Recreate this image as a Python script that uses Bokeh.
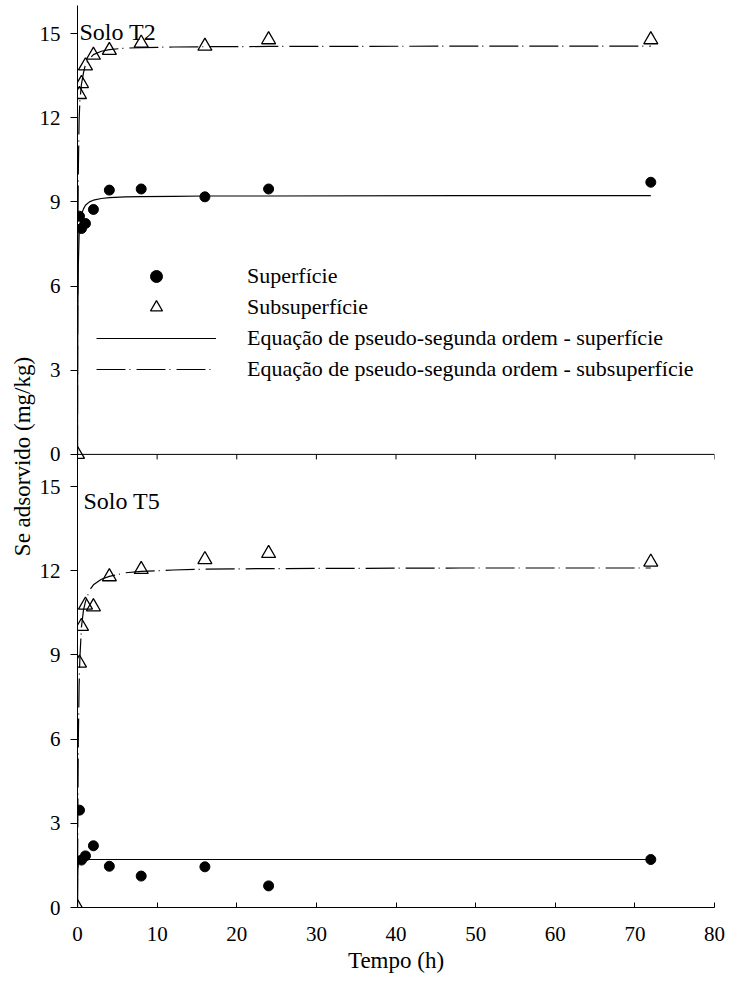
from bokeh.plotting import figure
from bokeh.models import (Range1d, FixedTicker, CustomJSTickFormatter, Legend, LegendItem, Label)
from bokeh.embed import file_html
from bokeh.resources import INLINE

# ---------------- data ----------------
times_sup = [0.25, 0.5, 1, 2, 4, 8, 16, 24, 72]          # Superfície sampling times (h)
times_sub = [0, 0.25, 0.5, 1, 2, 4, 8, 16, 24, 72]       # Subsuperfície sampling times (h)

t2_sup = [8.49, 8.05, 8.23, 8.73, 9.42, 9.46, 9.18, 9.46, 9.70]
t2_sub = [0, 12.83, 13.22, 13.85, 14.23, 14.40, 14.66, 14.55, 14.78, 14.78]
t5_sup = [3.47, 1.69, 1.84, 2.20, 1.47, 1.12, 1.45, 0.77, 1.71]
t5_sub = [0, 8.71, 10.02, 10.78, 10.72, 11.79, 12.05, 12.40, 12.62, 12.31]

# fitted pseudo-second-order curves
fit_t = [0, 0.02, 0.05, 0.1, 0.2, 0.3, 0.5, 0.75, 1, 1.5, 2, 3, 4, 6, 8, 12, 16, 24, 48, 72]
fit_t2_sup = [0, 3.3, 5.3, 6.7, 7.8, 8.2, 8.55, 8.75, 8.88, 9.0, 9.06, 9.12, 9.15, 9.18, 9.19, 9.2, 9.21, 9.21, 9.22, 9.22]
fit_t2_sub = [0, 4.5, 7.8, 10.0, 11.9, 12.6, 13.2, 13.6, 13.9, 14.1, 14.25, 14.37, 14.43, 14.48, 14.5, 14.52, 14.53, 14.54, 14.55, 14.55]
fit_t5_sup = [0, 0.9, 1.35, 1.55, 1.64, 1.67, 1.69, 1.70, 1.70, 1.71, 1.71, 1.71, 1.71, 1.71, 1.71, 1.71, 1.71, 1.71, 1.71, 1.71]
fit_t5_sub = [0, 1.7, 3.7, 5.9, 7.9, 8.9, 10.0, 10.6, 10.9, 11.3, 11.5, 11.7, 11.8, 11.93, 11.98, 12.03, 12.06, 12.08, 12.1, 12.1]

x_ticks = [0, 10, 20, 30, 40, 50, 60, 70, 80]
y_ticks = [0, 3, 6, 9, 12, 15]

legend_labels = ["Superfície", "Subsuperfície",
                 "Equação de pseudo-segunda ordem - superfície",
                 "Equação de pseudo-segunda ordem - subsuperfície"]
panel_titles = ["Solo T2", "Solo T5"]
x_title = "Tempo (h)"
y_title = "Se adsorvido (mg/kg)"

# ---------------- layout ----------------
FONT = "Liberation Serif"
BOTTOM_SPAN = 16.15   # extent of lower panel (T5)
TOP_SPAN = 16.0       # extent of upper panel (T2)
DASH = "29 4 1 6"

p = figure(width=755, height=981, output_backend="svg", toolbar_location=None,
           x_range=Range1d(0, 80), y_range=Range1d(0, BOTTOM_SPAN + TOP_SPAN),
           min_border_left=77, min_border_right=41, min_border_top=5, min_border_bottom=74)
p.extra_y_ranges = {"top": Range1d(-BOTTOM_SPAN, TOP_SPAN)}
p.outline_line_color = "white"
p.xgrid.grid_line_color = None
p.ygrid.grid_line_color = None

# x axis (bottom)
xa = p.xaxis[0]
xa.ticker = FixedTicker(ticks=x_ticks)
xa.major_tick_in = 5
xa.major_tick_out = 0
xa.minor_tick_in = 0
xa.minor_tick_out = 0
xa.axis_line_color = "black"
xa.major_tick_line_color = "black"
xa.major_label_text_font = FONT
xa.major_label_text_font_size = "21px"
xa.major_label_text_color = "black"
xa.major_label_standoff = 19
xa.axis_label = x_title
xa.axis_label_text_font = FONT
xa.axis_label_text_font_size = "23px"
xa.axis_label_text_font_style = "normal"
xa.axis_label_text_color = "black"
xa.axis_label_standoff = 4

# y axis (shared, both panels)
ya = p.yaxis[0]
ya.ticker = FixedTicker(ticks=y_ticks + [BOTTOM_SPAN + v for v in y_ticks])
ya.formatter = CustomJSTickFormatter(
    code="return (tick >= %s ? tick - %s : tick).toFixed(0);" % (BOTTOM_SPAN - 0.01, BOTTOM_SPAN))
ya.major_tick_in = 0
ya.major_tick_out = 7
ya.minor_tick_in = 0
ya.minor_tick_out = 0
ya.axis_line_color = "black"
ya.major_tick_line_color = "black"
ya.major_label_text_font = FONT
ya.major_label_text_font_size = "21px"
ya.major_label_text_color = "black"
ya.major_label_standoff = 10
ya.axis_label = y_title
ya.axis_label_text_font = FONT
ya.axis_label_text_font_size = "23px"
ya.axis_label_text_font_style = "normal"
ya.axis_label_text_color = "black"
ya.axis_label_standoff = 2

# x axis of upper panel (line + downward ticks), built from the tick list
p.segment(x0=[x_ticks[0]], y0=[0], x1=[x_ticks[-1]], y1=[0], y_range_name="top",
          line_color="black", line_width=1)
p.segment(x0=x_ticks[1:], y0=[0] * (len(x_ticks) - 1), x1=x_ticks[1:],
          y1=[-0.18] * (len(x_ticks) - 1), y_range_name="top",
          line_color="black", line_width=1)

# ---------------- upper panel: Solo T2 ----------------
l_sup = p.line(fit_t, fit_t2_sup, y_range_name="top", line_color="black", line_width=1.2)
l_sub = p.line(fit_t, fit_t2_sub, y_range_name="top", line_color="black", line_width=1.2,
               line_dash=DASH)
s_sup = p.scatter(times_sup, t2_sup, y_range_name="top", marker="circle", size=10,
                  fill_color="black", line_color="black")
s_sub = p.scatter(times_sub, t2_sub, y_range_name="top", marker="triangle", size=14,
                  fill_alpha=0, line_color="black", line_width=1.3)

# ---------------- lower panel: Solo T5 ----------------
p.line(fit_t, fit_t5_sup, line_color="black", line_width=1.2)
p.line(fit_t, fit_t5_sub, line_color="black", line_width=1.2, line_dash=DASH)
p.scatter(times_sup, t5_sup, marker="circle", size=10, fill_color="black", line_color="black")
p.scatter(times_sub, t5_sub, marker="triangle", size=14, fill_alpha=0,
          line_color="black", line_width=1.3)

# panel titles
p.add_layout(Label(x=0.25, y=15.07, y_range_name="top", text=panel_titles[0],
                   text_font=FONT, text_font_size="24px", text_color="black",
                   text_baseline="alphabetic"))
p.add_layout(Label(x=0.75, y=14.5, text=panel_titles[1],
                   text_font=FONT, text_font_size="24px", text_color="black",
                   text_baseline="alphabetic"))

# legend
legend = Legend(items=[
    LegendItem(label=legend_labels[0], renderers=[s_sup]),
    LegendItem(label=legend_labels[1], renderers=[s_sub]),
    LegendItem(label=legend_labels[2], renderers=[l_sup]),
    LegendItem(label=legend_labels[3], renderers=[l_sub]),
], location=(19, 523))
legend.label_text_font = FONT
legend.label_text_font_size = "22px"
legend.label_text_color = "black"
legend.padding = 0
legend.margin = 0
legend.spacing = 1
legend.glyph_width = 120
legend.glyph_height = 30
legend.label_height = 30
legend.label_standoff = 31
legend.border_line_alpha = 0
legend.background_fill_alpha = 0
p.add_layout(legend)

open("out.html", "w").write(file_html(p, INLINE))
